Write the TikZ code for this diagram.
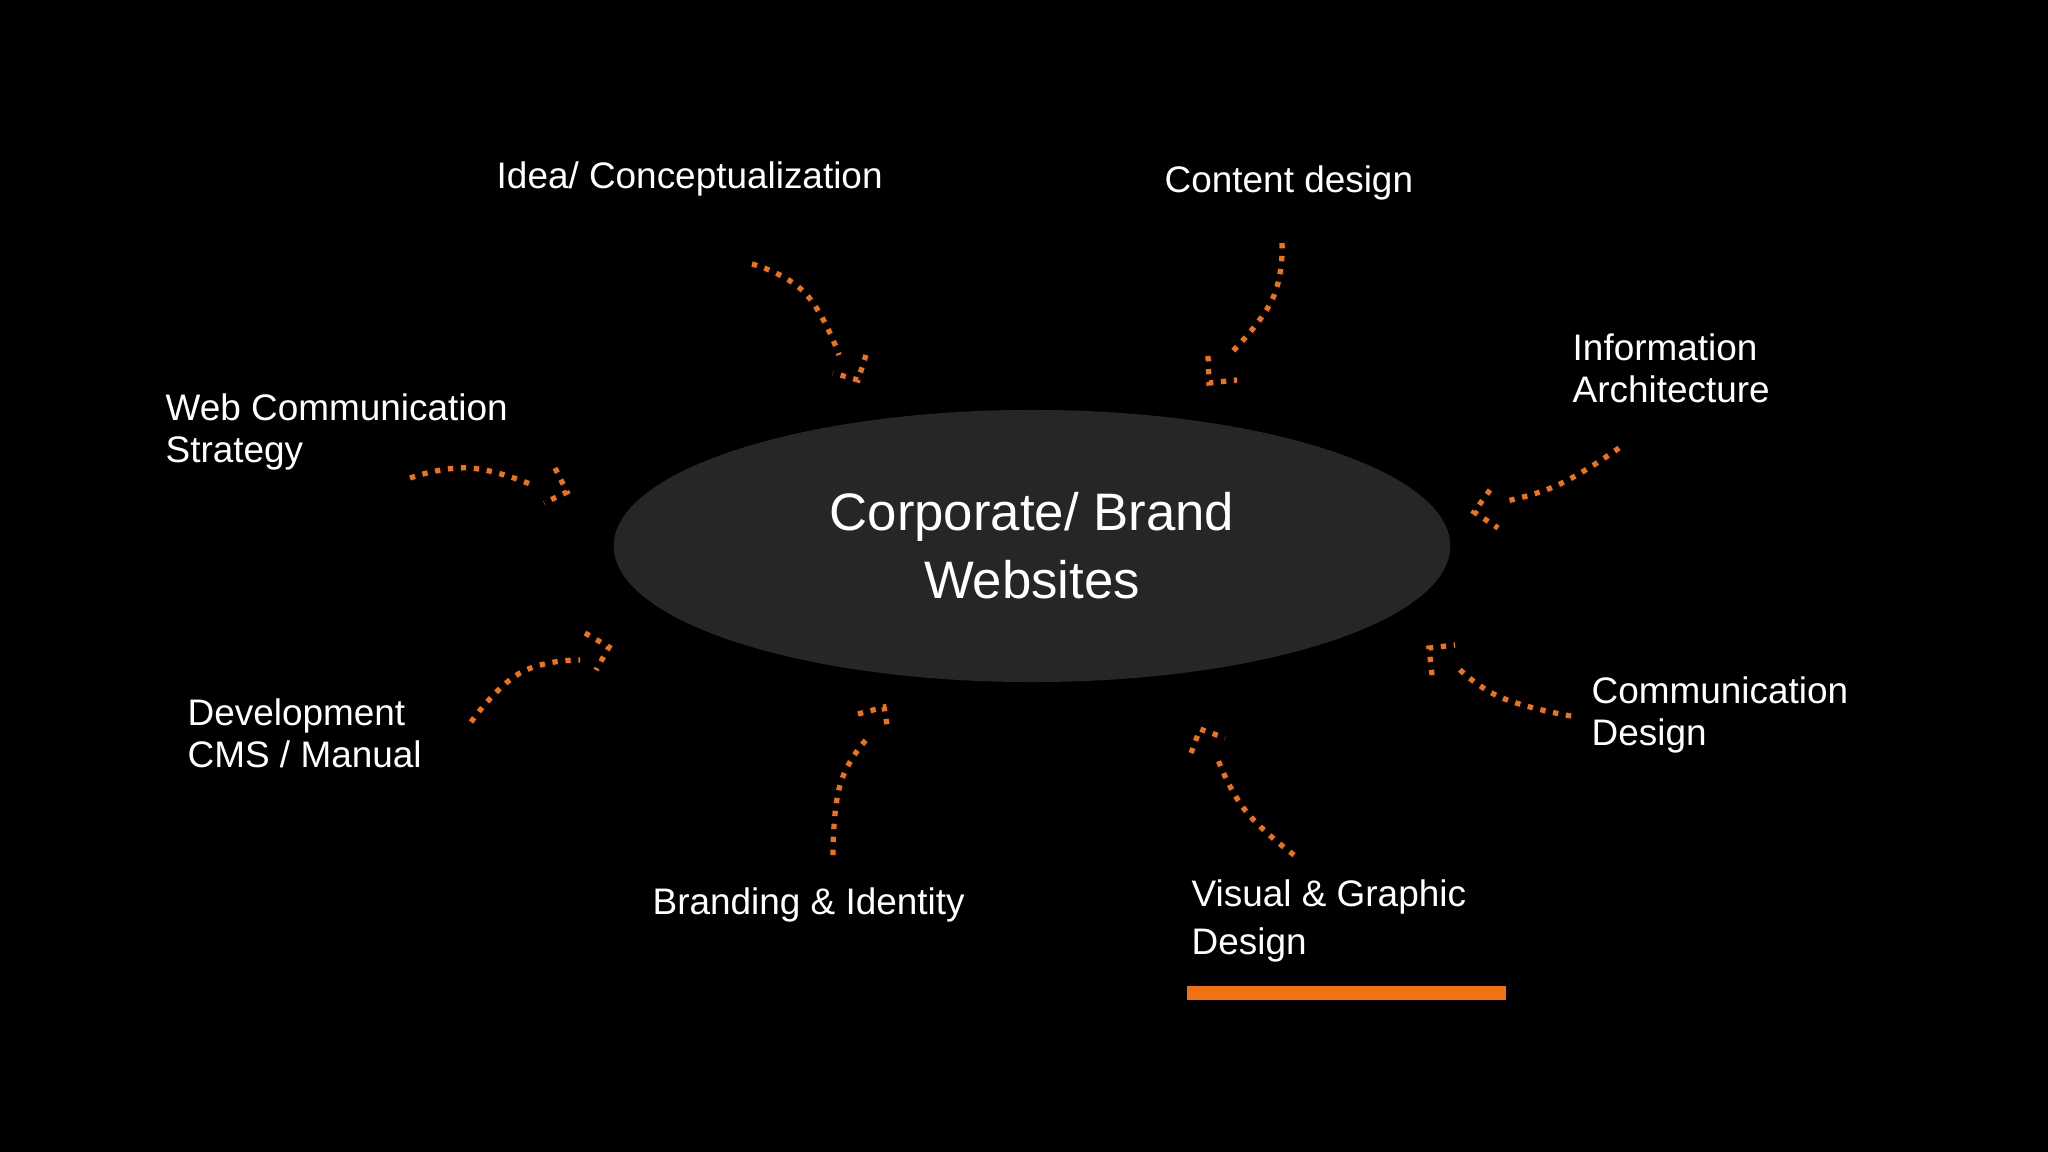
\documentclass[tikz,border=0pt]{standalone}
\usepackage{fontspec}
\usetikzlibrary{shapes.geometric}
\setmainfont{Liberation Sans}
\definecolor{org}{HTML}{F07212}
\definecolor{ell}{HTML}{262626}
\begin{document}
\begin{tikzpicture}[x=0.01cm,y=-0.01cm,
  lab/.style={text=white,font=\fontsize{10.5}{12}\selectfont,align=left,anchor=west,inner sep=0pt},
  dots/.style={draw=org,line width=1.5pt,dash pattern=on 1.5pt off 2.2pt},
  arr/.style={dots}]
\fill[black] (0,0) rectangle (2048,1152);
\useasboundingbox (0,0) rectangle (2048,1152);
\node (c) [ellipse,fill=ell,minimum width=8.36cm,minimum height=2.72cm,inner sep=0pt,text=white,font=\fontsize{15}{19.3}\selectfont,align=center] at (1032,546) {Corporate/ Brand\\Websites};
\node (idea) [lab] at (496,179) {Idea/ Conceptualization};
\node (cont) [lab] at (1164,183) {Content design};
\node (info) [lab] at (1572,368) {Information\\Architecture};
\node (web) [lab] at (165,432) {Web Communication\\Strategy};
\node (dev) [lab] at (187,733) {Development\\CMS / Manual};
\node (brand) [lab] at (652,905) {Branding \& Identity};
\node (vis) [lab,font=\fontsize{10.5}{13.4}\selectfont] at (1191,921) {Visual \& Graphic\\Design};
\node (comm) [lab] at (1591,715) {Communication\\Design};
\fill[org] (1187,986) rectangle (1506,1000);
% arrows
\foreach \s/\m/\e/\ba/\t/\bb in {
 {752,264}/{805,293}/{839,355}/{866,355}/{858,380}/{833,373},
 {1282,243}/{1272,300}/{1228,356}/{1208,356}/{1209,383}/{1237,380},
 {1619,448}/{1560,484}/{1506,501}/{1490,490}/{1474,512}/{1498,528},
 {1571,716}/{1500,697}/{1455,665}/{1432,675}/{1429,648}/{1455,645},
 {1294,855}/{1245,810}/{1217,757}/{1191,753}/{1200,729}/{1225,738},
 {833,855}/{840,785}/{866,740}/{858,714}/{884,707}/{888,731},
 {410,478}/{470,468}/{535,486}/{555,468}/{567,492}/{544,503},
 {471,722}/{520,673}/{580,660}/{585,633}/{609,647}/{596,670}}{
  \coordinate (s) at (\s); \coordinate (m) at (\m); \coordinate (e) at (\e);
  \coordinate (ba) at (\ba); \coordinate (t) at (\t); \coordinate (bb) at (\bb);
  \draw[arr] plot[smooth,tension=0.8] coordinates {(s) (m) (e)};
  \draw[arr] (ba) -- (t) -- (bb);
}
\end{tikzpicture}
\end{document}
